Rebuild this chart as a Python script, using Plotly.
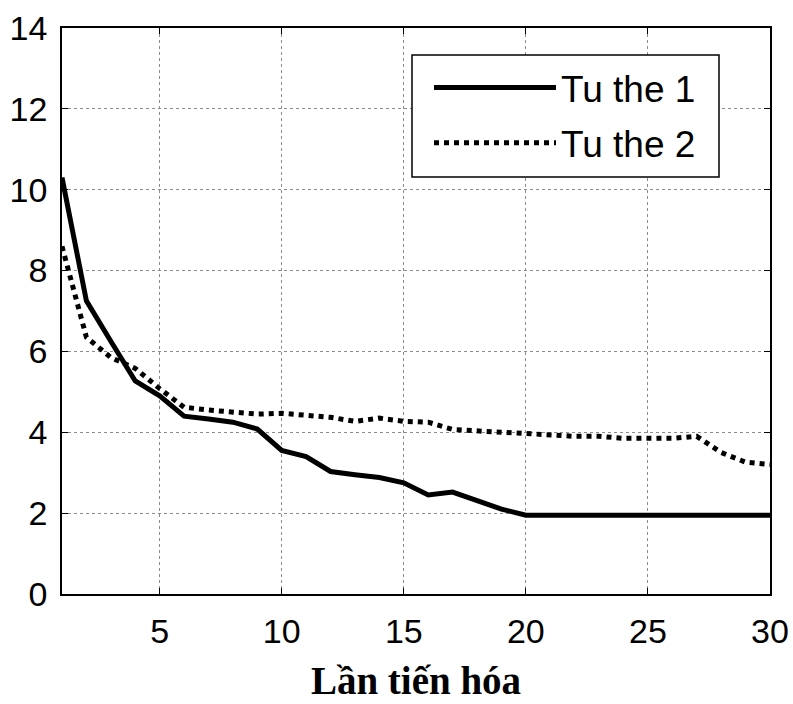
import plotly.graph_objects as go

x_vals = list(range(1, 31))
tu_the_1 = [10.3, 7.25, 6.25, 5.27, 4.9, 4.4, 4.33, 4.25, 4.08, 3.55,
            3.4, 3.03, 2.95, 2.88, 2.75, 2.45, 2.52, 2.3, 2.1, 1.95,
            1.95, 1.95, 1.95, 1.95, 1.95, 1.95, 1.95, 1.95, 1.95, 1.95]
tu_the_2 = [8.6, 6.35, 5.85, 5.58, 5.08, 4.62, 4.55, 4.5, 4.45, 4.47,
            4.42, 4.37, 4.27, 4.35, 4.27, 4.25, 4.07, 4.05, 4.0, 3.97,
            3.93, 3.9, 3.9, 3.85, 3.85, 3.85, 3.9, 3.5, 3.26, 3.2]
series_names = ["Tu the 1", "Tu the 2"]
x_ticks = [5, 10, 15, 20, 25, 30]
y_ticks = [0, 2, 4, 6, 8, 10, 12, 14]
x_title = "Lần tiến hóa"

W, H = 793, 704
ML, MR, MT, MB = 62, 23, 28, 110
PW, PH = W - ML - MR, H - MT - MB


def px_x(p):
    return (p - ML) / PW


def px_y(p):
    return (H - MB - p) / PH


fig = go.Figure()
fig.add_trace(go.Scatter(x=x_vals, y=tu_the_1, mode="lines", name=series_names[0],
                         line=dict(color="black", width=5), legendgroup="a"))
fig.add_trace(go.Scatter(x=x_vals, y=tu_the_2, mode="lines", name=series_names[1],
                         line=dict(color="black", width=5, dash="dot"), legendgroup="b"))

axis_common = dict(
    showline=True, linecolor="black", linewidth=1.5, mirror="ticks",
    ticks="inside", ticklen=6, tickcolor="black", tickwidth=1,
    showgrid=True, gridcolor="#8c8c8c", griddash="3px,3px", gridwidth=1,
    zeroline=False, automargin=False,
    tickfont=dict(family="Liberation Sans", size=34, color="black"),
)

fig.update_xaxes(range=[1, 30], tickvals=x_ticks, ticklabelstandoff=6,
                 title=dict(text=x_title, standoff=18,
                            font=dict(family="Liberation Serif", size=39, color="black",
                                      weight="bold")),
                 **axis_common)
fig.update_yaxes(range=[0, 14], tickvals=y_ticks, ticklabelstandoff=6, **axis_common)

# legend frame (decoration)
fig.add_shape(type="rect", xref="paper", yref="paper",
              x0=px_x(412), x1=px_x(719), y0=px_y(177), y1=px_y(55),
              line=dict(color="black", width=1.5), fillcolor="white", layer="above")

fig.update_layout(
    width=W, height=H,
    margin=dict(l=ML, r=MR, t=MT, b=MB),
    paper_bgcolor="white", plot_bgcolor="white",
    showlegend=True,
    legend=dict(x=px_x(429), y=px_y(57), xanchor="left", yanchor="top",
                bgcolor="rgba(0,0,0,0)", borderwidth=0,
                font=dict(family="Liberation Sans", size=37, color="black"),
                itemwidth=122, tracegroupgap=4),
)

fig.write_html("out.html")
